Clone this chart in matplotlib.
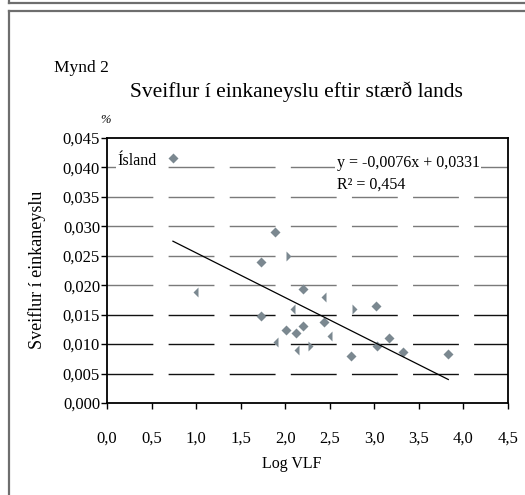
import matplotlib
matplotlib.use("Agg")
import matplotlib.pyplot as plt
from matplotlib.lines import Line2D
from matplotlib.ticker import FuncFormatter

plt.rcParams['font.family'] = ['Liberation Serif', 'DejaVu Serif']

# gögn (lesin af myndinni)
diamond_x = [0.74, 1.73, 1.73, 1.89, 2.01, 2.12, 2.20, 2.20, 2.43, 2.74, 3.02, 3.03, 3.17, 3.32, 3.83]
diamond_y = [0.0416, 0.0239, 0.0147, 0.0290, 0.0124, 0.0119, 0.0193, 0.0131, 0.0138, 0.0079, 0.0165, 0.0096, 0.0110, 0.0086, 0.0083]
left_x = [1.02, 1.92, 2.11, 2.15, 2.46, 2.53]
left_y = [0.0188, 0.0103, 0.0159, 0.0090, 0.0180, 0.0114]
right_x = [2.01, 2.26, 2.75]
right_y = [0.0250, 0.0096, 0.0159]

slope, intercept = -0.0076, 0.0331
trend_x = [0.74, 3.83]
r2 = 0.454

xticks = [0.0, 0.5, 1.0, 1.5, 2.0, 2.5, 3.0, 3.5, 4.0, 4.5]
yticks = [0.000, 0.005, 0.010, 0.015, 0.020, 0.025, 0.030, 0.035, 0.040, 0.045]

W, H = 525, 495
fig = plt.figure(figsize=(W / 100, H / 100), dpi=100)
fig.patch.set_facecolor('white')

# rammar
fc = '#6e6e6e'
fig.add_artist(Line2D([9 / W, 1], [1 - 3 / H, 1 - 3 / H], color=fc, lw=1.6))
fig.add_artist(Line2D([9 / W, 9 / W], [1, 1 - 3 / H], color=fc, lw=1.6))
fig.add_artist(Line2D([9 / W, 1], [1 - 11 / H, 1 - 11 / H], color=fc, lw=1.6))
fig.add_artist(Line2D([9 / W, 9 / W], [0, 1 - 11 / H], color=fc, lw=1.6))

ax = fig.add_axes([107 / W, (H - 403) / H, 401 / W, 265 / H])
ax.set_xlim(0, 4.5)
ax.set_ylim(0, 0.045)

# hnitanet
for y in yticks[1:-1]:
    col = '#7a7a7a' if y >= 0.0195 else '#111111'
    ax.plot([0, 4.5], [y, y], color=col, lw=1.0, dashes=(33, 11), zorder=1)

mcol = '#7b8890'
ax.plot(diamond_x, diamond_y, 'D', color=mcol, ms=4.6, mec='none', zorder=3)
ax.plot(left_x, left_y, 'D', color=mcol, ms=5, mec='none', fillstyle='left',
        markerfacecoloralt='none', zorder=3)
ax.plot(right_x, right_y, 'D', color=mcol, ms=5, mec='none', fillstyle='right',
        markerfacecoloralt='none', zorder=3)

ty = [slope * x + intercept for x in trend_x]
ax.plot(trend_x, ty, color='black', lw=0.9, zorder=4)

ax.text(0.12, 0.0411, 'Ísland', fontsize=11.5, va='center', ha='left',
        bbox=dict(facecolor='white', edgecolor='none', pad=1), zorder=5)
ax.text(2.58, 0.0408, 'y = -0,0076x + 0,0331', fontsize=11.5, va='center', ha='left',
        bbox=dict(facecolor='white', edgecolor='none', pad=1), zorder=5)
ax.text(2.58, 0.0370, 'R² = ' + f'{r2:.3f}'.replace('.', ','), fontsize=11.5,
        va='center', ha='left',
        bbox=dict(facecolor='white', edgecolor='none', pad=1), zorder=5)

ax.set_xticks(xticks)
ax.set_yticks(yticks)
ax.xaxis.set_major_formatter(FuncFormatter(lambda v, p: f'{v:.1f}'.replace('.', ',')))
ax.yaxis.set_major_formatter(FuncFormatter(lambda v, p: f'{v:.3f}'.replace('.', ',')))
ax.tick_params(axis='both', direction='out', length=4, width=1, labelsize=12, colors='black')
ax.tick_params(axis='x', pad=16)
ax.tick_params(axis='y', pad=1)
for s in ax.spines.values():
    s.set_linewidth(1.3)

fig.text(292 / W, 1 - 464 / H, 'Log VLF', fontsize=11.5, ha='center', va='center')
fig.text(37 / W, 1 - 270 / H, 'Sveiflur í einkaneyslu', fontsize=13, ha='center',
         va='center', rotation=90)
fig.text(54 / W, 1 - 68 / H, 'Mynd 2', fontsize=12.5, ha='left', va='center')
fig.text(296 / W, 1 - 92 / H, 'Sveiflur í einkaneyslu eftir stærð lands', fontsize=15.5,
         ha='center', va='center')
fig.text(105 / W, 1 - 120 / H, '%', fontsize=9, ha='center', va='center', style='italic')

fig.savefig('out.png', dpi=100)
